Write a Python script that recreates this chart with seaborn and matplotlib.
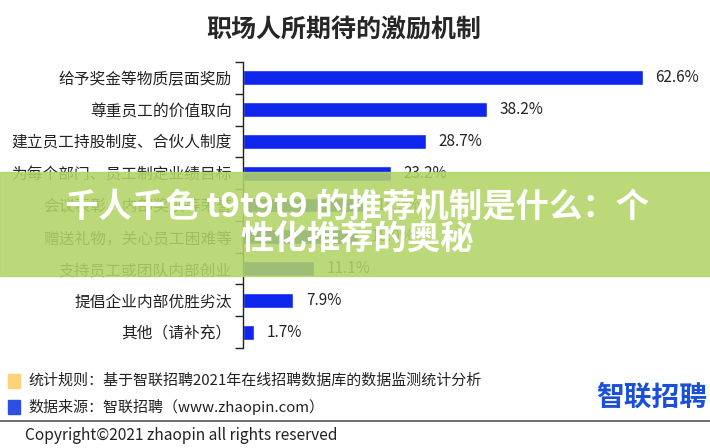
import numpy as np
import pandas as pd
import matplotlib
matplotlib.use("Agg")
import matplotlib.pyplot as plt
import seaborn as sns
from matplotlib.patches import Rectangle

# Data
categories = ["给予奖金等物质层面奖励", "尊重员工的价值取向", "建立员工持股制度、合伙人制度",
              "为每个部门、员工制定业绩目标", "会议表彰、内部奖项等荣誉", "赠送礼物，关心员工困难等",
              "支持员工或团队内部创业", "提倡企业内部优胜劣汰", "其他（请补充）"]
values = [62.6, 38.2, 28.7, 23.2, 18.9, 18.0, 11.1, 7.9, 1.7]
value_labels = ["62.6%", "38.2%", "28.7%", "23.2%", "18.9%", "18.0%", "11.1%", "7.9%", "1.7%"]

title = "职场人所期待的激励机制"
note_rule = "统计规则：基于智联招聘2021年在线招聘数据库的数据监测统计分析"
note_source = "数据来源：智联招聘（www.zhaopin.com）"
copyright_text = "Copyright©2021 zhaopin all rights reserved"
logo_text = "智联招聘"
banner_text = "千人千色 t9t9t9 的推荐机制是什么：个\n性化推荐的奥秘"

sns.set_style("white")
plt.rcParams["font.family"] = ["Noto Sans CJK SC", "DejaVu Sans"]

df = pd.DataFrame({"category": categories, "value": values})

fig = plt.figure(figsize=(7.1, 4.48), dpi=100)
ax = fig.add_axes([243 / 710, 1 - 348 / 448, 1 - 243 / 710, 286 / 448])

sns.barplot(data=df, x="value", y="category", orient="h", color="#0f26ee",
            width=0.47, saturation=1, ax=ax)

ax.set_xlim(0, 73.1)
ax.set_ylim(len(categories) - 0.5, -0.5)
ax.bar_label(ax.containers[0], labels=value_labels, padding=9, fontsize=11, color="#222222")

for s in ["top", "right", "bottom"]:
    ax.spines[s].set_visible(False)
ax.spines["left"].set_color("#222222")
ax.spines["left"].set_linewidth(1.0)
ax.set_xticks([])
ax.set_xlabel("")
ax.set_ylabel("")
ax.set_yticks(np.arange(len(categories)))
ax.set_yticks(np.arange(len(categories) + 1) - 0.5, minor=True)
ax.tick_params(axis="y", which="major", length=0, pad=8, labelsize=11.3, labelcolor="#222222")
ax.tick_params(axis="y", which="minor", length=6, width=1, color="#222222", left=True)

fig.text(0.484, 1 - 30 / 448, title, ha="center", va="center", fontsize=18, fontweight="bold")

# footer
fig.patches.append(Rectangle((8 / 710, 1 - 388 / 448), 12 / 710, 14 / 448,
                             transform=fig.transFigure, color="#fdd37a"))
fig.patches.append(Rectangle((8 / 710, 1 - 414 / 448), 12 / 710, 14 / 448,
                             transform=fig.transFigure, color="#2b4fe0"))
fig.text(28 / 710, 1 - 381 / 448, note_rule, ha="left", va="center", fontsize=10.8, color="#222222")
fig.text(28 / 710, 1 - 407 / 448, note_source, ha="left", va="center", fontsize=10.8, color="#222222")
fig.add_artist(plt.Line2D([0, 1], [1 - 421 / 448] * 2, transform=fig.transFigure,
                          color="#555555", linewidth=1.2))
fig.text(25 / 710, 1 - 435 / 448, copyright_text, ha="left", va="center", fontsize=11.2, color="#222222")
fig.text(652 / 710, 1 - 398 / 448, logo_text, ha="center", va="center", fontsize=20,
         fontweight="bold", color="#1a4fd8")

# overlay banner
fig.patches.append(Rectangle((0, 1 - 276 / 448), 1, 104 / 448, transform=fig.transFigure,
                             color="#b3d468", alpha=0.88, zorder=5))
fig.text(357 / 710, 1 - 224 / 448, banner_text, ha="center", va="center", fontsize=24,
         fontweight="heavy", color="white", linespacing=1.0, zorder=6)

fig.savefig("out.png", dpi=100)
